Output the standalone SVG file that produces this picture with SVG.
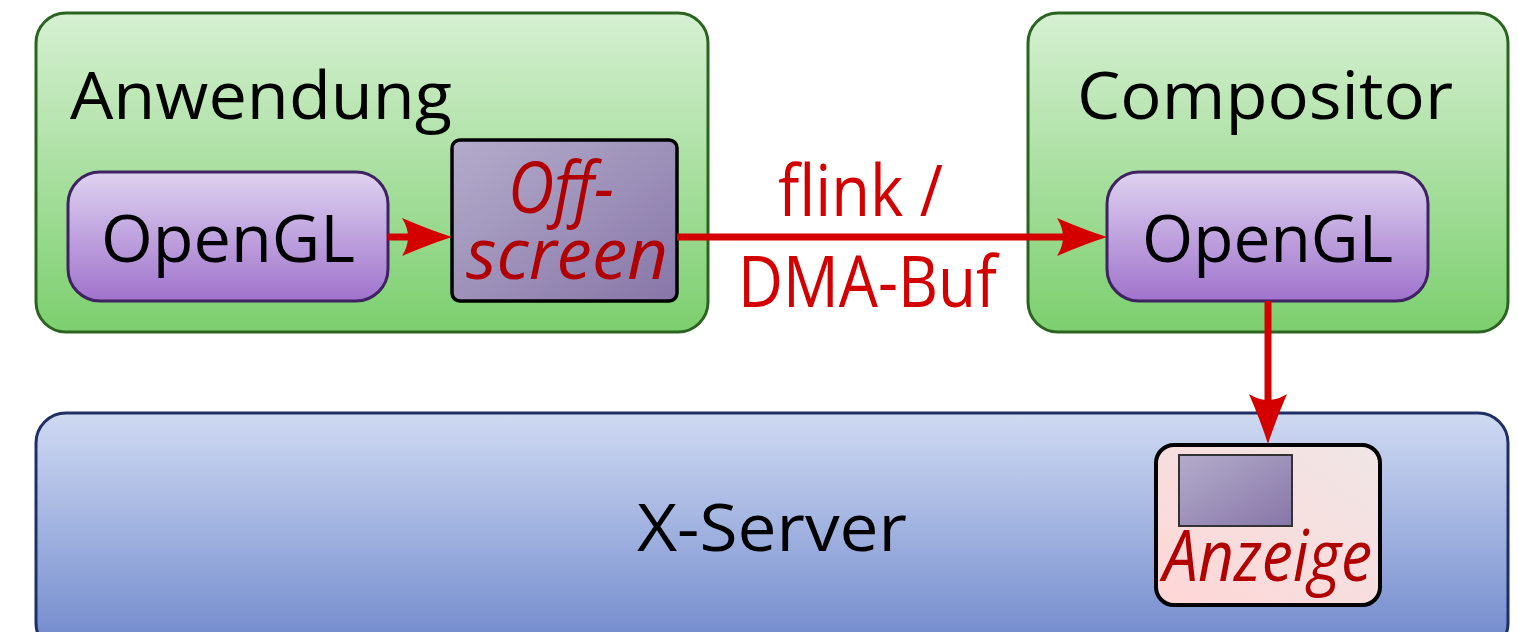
<svg xmlns="http://www.w3.org/2000/svg" width="1518" height="632" viewBox="0 0 1518 632">
  <defs>
    <linearGradient id="gGreen" x1="0" y1="0" x2="0" y2="1">
      <stop offset="0" stop-color="#d6f0d2"/>
      <stop offset="1" stop-color="#7ccf6e"/>
    </linearGradient>
    <linearGradient id="gPurple" x1="0" y1="0" x2="0" y2="1">
      <stop offset="0" stop-color="#ded2f0"/>
      <stop offset="1" stop-color="#a073cc"/>
    </linearGradient>
    <linearGradient id="gBlue" x1="0" y1="0" x2="0" y2="1">
      <stop offset="0" stop-color="#cfdaf2"/>
      <stop offset="1" stop-color="#6f88cc"/>
    </linearGradient>
    <linearGradient id="gBuffer" x1="0" y1="0" x2="1" y2="1">
      <stop offset="0" stop-color="#b4accb"/>
      <stop offset="1" stop-color="#8776a8"/>
    </linearGradient>
    <linearGradient id="gScreen" x1="0" y1="1" x2="1" y2="0">
      <stop offset="0" stop-color="#ffd6d6"/>
      <stop offset="1" stop-color="#f0e6e6"/>
    </linearGradient>
    <marker id="head" markerUnits="userSpaceOnUse" markerWidth="52" markerHeight="40" refX="10" refY="19" orient="auto" overflow="visible">
      <path d="M0,0 Q28,12 50,19 Q28,26 0,38 Q12,19 0,0 Z" fill="#d40000"/>
    </marker>
  </defs>
  <style>
    .lbl { font-family: "Open Sans", "Noto Sans", sans-serif; font-size: 66px; fill: #000; text-anchor: middle; }
    .red { font-family: "Open Sans", "Noto Sans", sans-serif; font-size: 72px; fill: #b00000; text-anchor: middle; }
    .link-label { fill: #d40000; }
    .it { font-style: italic; }
    .group-green { fill: url(#gGreen); stroke: #2b6420; stroke-width: 3; }
    .api { fill: url(#gPurple); stroke: #3e2262; stroke-width: 3; }
    .link { fill: none; stroke: #d40000; stroke-width: 7; marker-end: url(#head); }
  </style>

  <g id="xserver">
    <rect x="36" y="413" width="1472" height="240" rx="30" fill="url(#gBlue)" stroke="#1f2f66" stroke-width="3"/>
    <text class="lbl" x="772" y="551" textLength="270" lengthAdjust="spacingAndGlyphs">X-Server</text>
  </g>

  <g id="anwendung">
    <rect class="group-green" x="36" y="13" width="672" height="319" rx="30"/>
    <text class="lbl" x="261" y="119" textLength="382" lengthAdjust="spacingAndGlyphs">Anwendung</text>
  </g>

  <g id="compositor">
    <rect class="group-green" x="1028" y="13" width="480" height="319" rx="30"/>
    <text class="lbl" x="1265" y="119" textLength="376" lengthAdjust="spacingAndGlyphs">Compositor</text>
  </g>

  <g id="opengl-app">
    <rect class="api" x="68" y="172" width="320" height="129" rx="32"/>
    <text class="lbl" x="228" y="262" textLength="254" lengthAdjust="spacingAndGlyphs">OpenGL</text>
  </g>

  <g id="offscreen">
    <rect x="452" y="140" width="225" height="161" rx="8" fill="url(#gBuffer)" stroke="#000" stroke-width="3.5"/>
    <text class="red it" x="561" y="213" textLength="106" lengthAdjust="spacingAndGlyphs" font-size="74">Off-</text>
    <text class="red it" x="567" y="279" textLength="202" lengthAdjust="spacingAndGlyphs" font-size="74">screen</text>
  </g>

  <g id="opengl-compositor">
    <rect class="api" x="1107" y="172" width="321" height="129" rx="32"/>
    <text class="lbl" x="1267.5" y="262" textLength="251" lengthAdjust="spacingAndGlyphs">OpenGL</text>
  </g>

  <g id="anzeige">
    <rect x="1156" y="445" width="224" height="160" rx="18" fill="url(#gScreen)" stroke="#000" stroke-width="4"/>
    <rect x="1179" y="455" width="113" height="71" fill="url(#gBuffer)" stroke="#333" stroke-width="2"/>
    <text class="red it" x="1267.5" y="581" textLength="209" lengthAdjust="spacingAndGlyphs">Anzeige</text>
  </g>

  <g id="connectors">
    <path class="link" d="M388,237 H412"/>
    <path class="link" d="M677,237 H1067"/>
    <path class="link" d="M1268,301 V404"/>
    <text class="red link-label" x="860.5" y="216" textLength="165" lengthAdjust="spacingAndGlyphs">flink /</text>
    <text class="red link-label" x="867.5" y="307" textLength="259" lengthAdjust="spacingAndGlyphs">DMA-Buf</text>
  </g>
</svg>
